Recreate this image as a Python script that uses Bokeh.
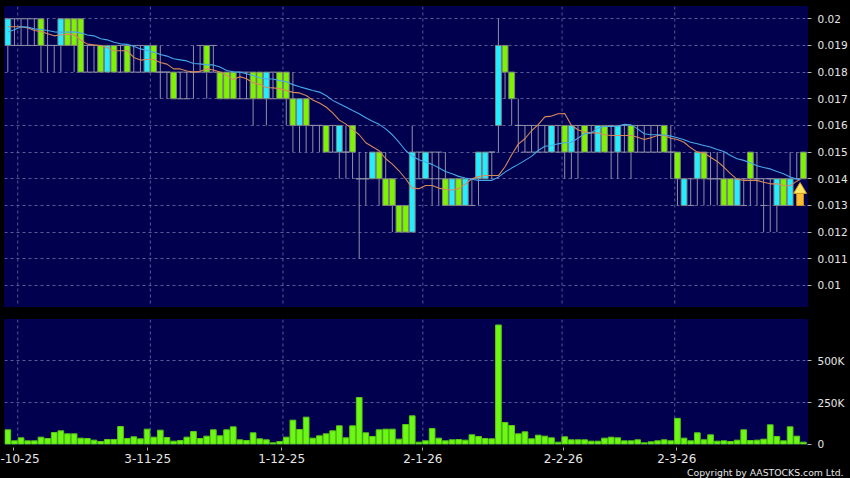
from bokeh.plotting import figure
from bokeh.layouts import column
from bokeh.models import FixedTicker, NumeralTickFormatter, Span, Range1d
from bokeh.core.properties import value
from bokeh.embed import file_html
from bokeh.resources import INLINE

# prices are listed in thousandths of a dollar
price_unit = 0.001
opens  = [19,20,20,20,20,20,19,19,19,20,20,20,19,19,19,18,19,19,19,19,19,18,19,18,18,18,18,18,18,19,
          19,19,18,18,18,18,18,18,18,17,18,18,18,17,16,17,16,16,16,16,15,15,16,14,14,14,15,14,14,13,
          13,12,15,14,15,15,14,13,14,13,14,14,14,15,16,19,18,16,16,16,16,16,15,16,16,15,16,16,16,15,
          16,16,15,16,16,16,16,16,16,16,15,15,13,14,14,15,14,14,14,14,13,14,15,14,14,14,13,14,13,14,15]
closes = [20,19,19,19,19,19,19,19,20,19,19,18,18,18,18,19,18,18,18,18,18,19,18,18,18,17,17,17,18,18,
          18,18,17,17,17,17,17,17,17,18,17,17,17,16,17,16,16,16,15,15,16,15,15,14,14,15,14,13,13,12,
          12,15,14,15,14,14,13,14,13,14,13,15,15,15,19,18,17,16,15,15,15,15,16,15,15,16,15,15,15,16,
          15,15,16,15,15,15,15,15,15,15,15,14,14,13,15,14,14,14,13,13,14,13,14,14,13,14,14,13,14,14,14]
highs  = [20,20,20,20,20,20,20,19,20,20,20,20,19,19,19,19,19,19,19,19,19,19,19,19,18,18,18,18,19,19,
          19,19,18,18,18,18,18,18,18,18,18,18,18,18,17,17,16,16,16,16,16,16,16,15,15,15,15,15,14,13,
          13,16,15,15,15,15,15,14,14,14,14,15,15,15,20,19,18,17,16,16,16,16,16,16,16,16,16,16,16,16,
          16,16,16,16,16,16,16,16,16,16,16,15,14,14,15,15,15,15,15,14,14,14,15,15,14,14,14,14,15,15,15]
lows   = [18,19,19,19,19,18,18,18,18,19,18,18,18,18,18,18,18,18,18,18,18,18,18,17,17,17,17,17,17,18,
          17,18,17,17,17,17,17,16,17,16,17,17,16,15,15,15,15,15,15,15,14,14,14,11,13,14,13,13,12,12,
          12,12,14,14,13,13,13,13,13,13,13,13,14,14,15,17,16,15,15,15,15,15,15,15,14,14,14,15,15,15,
          15,14,14,15,14,15,15,15,15,15,14,13,13,13,13,13,13,13,13,13,13,13,13,13,12,12,12,13,13,14]
ma_short = [19.7,19.7,19.7,19.66,19.56,19.52,19.44,19.36,19.4,19.42,19.4,19.2,19.05,19.02,19.0,18.92,18.8,18.8,18.8,18.55,
            18.45,18.47,18.47,18.36,18.3,18.12,18.12,18.04,18.0,18.03,18.12,18.08,18.0,17.88,17.72,17.83,17.75,17.6,17.54,17.42,
            17.41,17.38,17.31,17.24,17.22,17.12,16.95,16.84,16.69,16.47,16.2,16.05,15.85,15.65,15.35,15.2,15.05,14.75,14.55,14.3,
            14.0,13.65,13.63,13.75,13.75,13.65,13.6,13.58,13.63,13.8,14.0,14.08,14.12,14.12,14.12,14.45,14.9,15.3,15.5,15.8,
            16.03,16.32,16.35,16.44,16.45,16.01,15.84,15.75,15.72,15.72,15.65,15.62,15.62,15.62,15.62,15.56,15.47,15.54,15.62,15.62,
            15.52,15.47,15.37,15.16,15.0,14.97,14.81,14.65,14.44,14.19,13.98,13.94,13.94,13.94,13.87,13.81,13.81,13.75,13.74,13.91,13.98]
ma_long = [19.5,19.59,19.7,19.69,19.62,19.6,19.56,19.51,19.5,19.5,19.51,19.47,19.39,19.36,19.25,19.21,19.12,19.06,19.04,18.97,
           18.87,18.81,18.75,18.66,18.6,18.5,18.46,18.42,18.32,18.31,18.27,18.27,18.19,18.06,18.01,18.0,17.94,17.87,17.79,17.74,
           17.74,17.68,17.64,17.53,17.45,17.38,17.31,17.25,17.12,16.94,16.81,16.69,16.56,16.44,16.29,16.16,16.04,15.87,15.65,15.37,
           15.06,14.85,14.71,14.63,14.54,14.41,14.27,14.19,14.09,14.03,13.98,13.94,13.94,13.94,14.06,14.25,14.4,14.54,14.69,14.84,
           15.06,15.22,15.25,15.31,15.35,15.37,15.52,15.69,15.72,15.9,15.96,15.96,15.97,16.04,16.02,15.87,15.69,15.65,15.65,15.64,
           15.6,15.54,15.46,15.37,15.31,15.25,15.19,15.1,15.02,14.87,14.75,14.69,14.6,14.49,14.42,14.37,14.27,14.19,14.07,13.99,13.96]
volume_k = [86,20,38,20,20,42,34,70,80,62,62,36,34,24,16,28,28,106,34,44,32,90,42,84,40,18,22,42,76,34,
            48,86,50,86,104,26,22,68,32,26,8,16,42,144,88,162,36,50,62,80,110,38,110,280,68,46,86,90,90,30,
            118,170,12,20,94,36,20,26,28,24,56,46,34,32,715,130,112,62,74,32,54,48,38,12,44,26,26,26,18,18,
            36,42,38,20,20,26,8,14,20,26,20,155,36,20,68,26,56,18,20,16,24,86,22,24,30,116,46,20,104,48,12]
date_labels = ["-10-25", "3-11-25", "1-12-25", "2-1-26", "2-2-26", "2-3-26"]
copyright_text = "Copyright by AASTOCKS.com Ltd."
date_ticks = [0.9, 21.1, 41.3, 62.6, 83.8, 100.9]
date_grid = [1.5, 21.5, 41.5, 62.6, 83.6, 100.6]
price_ticks = [0.01, 0.011, 0.012, 0.013, 0.014, 0.015, 0.016, 0.017, 0.018, 0.019, 0.02]
vol_ticks = [0, 250000, 500000]
vol_labels = {0: "0", 250000: "250K", 500000: "500K"}
arrow_bar, arrow_tip, arrow_neck, arrow_base = 119.5, 0.01386, 0.01345, 0.0130

# bars that show no body, only their wick and ticks
no_body = {1,2,3,4,6,7,12,13,17,19,20,23,24,26,27,28,29,31,35,36,40,46,47,49,51,53,54,62,64,65,70,73,77,78,79,80,81,
           83,86,88,91,93,95,96,97,98,100,103,106,107,111,113,114,115,119}

n = len(opens)
idx = list(range(n))
BG = "#000000"; NAVY = "#00004E"; GRID = "#5A5A96"; TXT = "#E6E6E6"
FONT = "DejaVu Sans"
XR = (-0.5, 120.62)

def base(h, top, bottom, yr):
    p = figure(width=850, height=h, output_backend="svg", toolbar_location=None,
               x_range=Range1d(*XR), y_range=Range1d(*yr), y_axis_location="right",
               min_border_left=4, min_border_right=43, min_border_top=top, min_border_bottom=bottom,
               background_fill_color=NAVY, border_fill_color=BG, outline_line_color=NAVY)
    p.xgrid.visible = False
    p.ygrid.grid_line_color = GRID
    p.ygrid.grid_line_dash = "3 3"
    p.ygrid.grid_line_width = 1
    for g in date_grid:
        p.add_layout(Span(location=g, dimension="height", line_color=GRID, line_dash="3 3", line_width=1, level="underlay"))
    ax = p.yaxis[0]
    ax.axis_line_color = None
    ax.major_tick_line_color = "#B0B0B0"
    ax.major_tick_in = 0; ax.major_tick_out = 4
    ax.minor_tick_line_color = None
    ax.major_label_text_color = TXT
    ax.major_label_text_font = FONT
    ax.major_label_text_font_size = "10.5px"
    ax.major_label_standoff = 6
    return p

# ---- price panel
p1 = base(313, 6, 7, (9.21 * price_unit, 20.46 * price_unit))
p1.xaxis.visible = False
p1.yaxis[0].ticker = FixedTicker(ticks=price_ticks)
p1.ygrid[0].ticker = FixedTicker(ticks=price_ticks)
p1.yaxis[0].formatter = NumeralTickFormatter(format="0.00[0]")

WICK = "#9090A8"; EDGE = "#808080"; GREEN = "#7CF400"; CYAN = "#22EEFF"
p1.segment(idx, [v * price_unit for v in lows], idx, [v * price_unit for v in highs], line_color=WICK, line_width=1)
dj = [i for i in idx if i in no_body]
for vals in (opens, closes):
    p1.segment([i - 0.5 for i in dj], [vals[i] * price_unit for i in dj],
               [i + 0.5 for i in dj], [vals[i] * price_unit for i in dj], line_color=WICK, line_width=1)
bd = [i for i in idx if i not in no_body]
top = [max(opens[i], closes[i]) * price_unit for i in bd]
bot = [min(opens[i], closes[i]) * price_unit for i in bd]
col = [CYAN if closes[i] > opens[i] else GREEN for i in bd]
p1.vbar(x=bd, top=top, bottom=bot, width=0.88, fill_color=col, line_color=EDGE, line_width=1)

ma_x = [max(-0.45, min(i, 119.55)) for i in idx]
p1.line(ma_x, [v * price_unit for v in ma_short], line_color="#D8885A", line_width=1.1)
p1.line(ma_x, [v * price_unit for v in ma_long], line_color="#46A8E8", line_width=1.1)

hw, sw = 0.98, 0.5
p1.patch([arrow_bar + sw, arrow_bar + sw, arrow_bar - sw, arrow_bar - sw],
         [arrow_neck, arrow_base, arrow_base, arrow_neck],
         fill_color="#FFBE30", line_color="#D8981F", line_width=1)
p1.patch([arrow_bar, arrow_bar + hw, arrow_bar - hw],
         [arrow_tip, arrow_neck, arrow_neck],
         fill_color="#FFE860", line_color="#D8981F", line_width=1)

# ---- volume panel
p2 = base(152, 6, 21, (-2000, 748000))
p2.yaxis[0].ticker = FixedTicker(ticks=vol_ticks)
p2.ygrid[0].ticker = FixedTicker(ticks=vol_ticks[1:])
p2.yaxis[0].major_label_overrides = vol_labels
p2.vbar(x=idx, top=[v * 1000 for v in volume_k], bottom=0, width=0.86,
        fill_color="#6CF812", line_color="#58C818", line_width=1)
xa = p2.xaxis[0]
xa.ticker = FixedTicker(ticks=date_ticks)
xa.major_label_overrides = dict(zip(date_ticks, date_labels))
xa.axis_line_color = None
xa.major_tick_line_color = "#B0B0B0"
xa.major_tick_in = -3; xa.major_tick_out = 6
xa.minor_tick_line_color = None
xa.major_label_text_color = TXT
xa.major_label_text_font = FONT
xa.major_label_text_font_size = "12px"
xa.major_label_standoff = 3

# ---- footer strip with the copyright
p3 = figure(width=850, height=13, output_backend="svg", toolbar_location=None, min_border=0,
            x_range=Range1d(0, 850), y_range=Range1d(0, 13), frame_align=False,
            background_fill_color=BG, border_fill_color=BG, outline_line_color=None)
p3.xaxis.visible = False; p3.yaxis.visible = False; p3.grid.visible = False
p3.text([686.5], [6.5], text=[copyright_text], text_color=TXT, text_font=value(FONT),
        text_font_size="9.3px", text_baseline="middle", text_align="left")

page = column(p1, p2, p3, spacing=0)
page.styles = {"background-color": "#000000"}
open("out.html", "w").write(file_html(page, INLINE))
